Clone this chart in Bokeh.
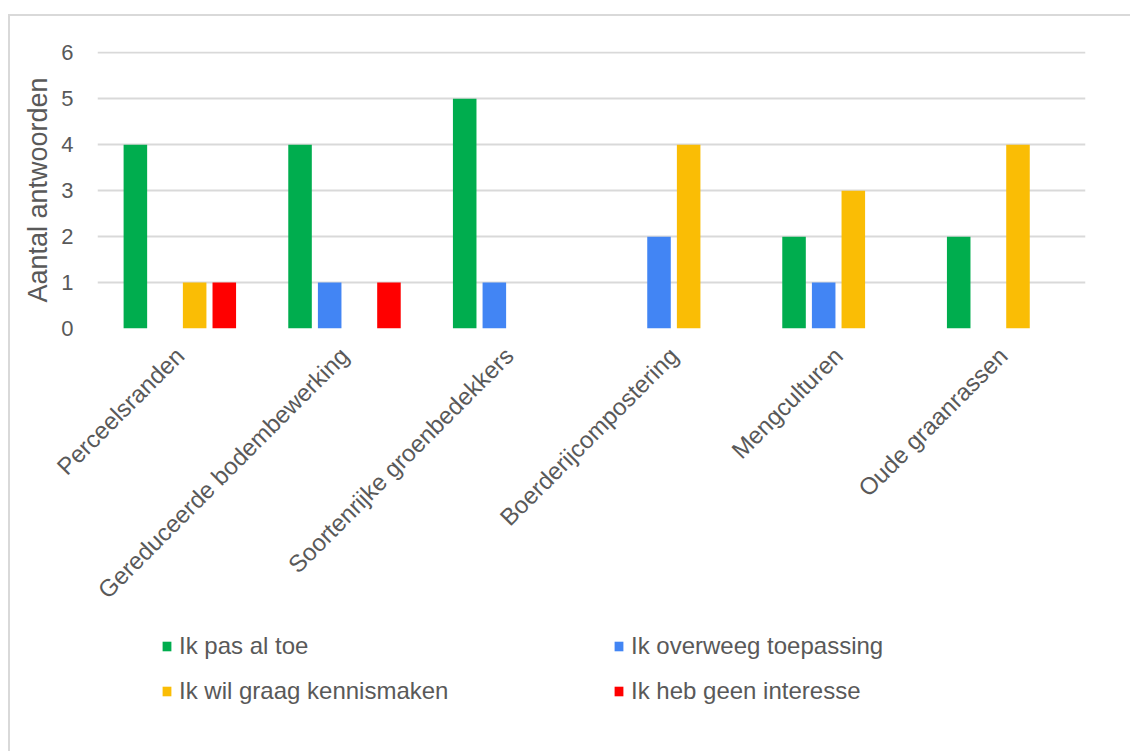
import math
from bokeh.plotting import figure
from bokeh.layouts import column
from bokeh.models import (ColumnDataSource, FactorRange, Range1d, Legend, LegendItem,
                          FixedTicker)
from bokeh.transform import dodge
from bokeh.embed import file_html
from bokeh.resources import INLINE

categories = ["Perceelsranden", "Gereduceerde bodembewerking", "Soortenrijke groenbedekkers",
              "Boerderijcompostering", "Mengculturen", "Oude graanrassen"]
pas_al_toe = [4, 4, 5, 0, 2, 2]
overweeg = [0, 1, 1, 2, 1, 0]
kennismaken = [1, 0, 0, 4, 3, 4]
geen_interesse = [1, 1, 0, 0, 0, 0]
series_names = ["Ik pas al toe", "Ik overweeg toepassing",
                "Ik wil graag kennismaken", "Ik heb geen interesse"]
y_ticks = [0, 1, 2, 3, 4, 5, 6]

colors = ["#00AD4E", "#4285F4", "#FABD05", "#FF0000"]
FONT = "Liberation Sans"
TXT = "#595959"

src = ColumnDataSource(dict(cat=categories, s0=pas_al_toe, s1=overweeg,
                            s2=kennismaken, s3=geen_interesse))

p = figure(width=1120, height=600, x_range=FactorRange(*categories, range_padding=0),
           y_range=Range1d(0, 6.03), output_backend="svg", toolbar_location=None,
           min_border_left=87, min_border_right=45, min_border_top=35, min_border_bottom=288)
p.outline_line_color = None

offsets = [-0.27, -0.09, 0.09, 0.27]
renderers = []
for i, key in enumerate(["s0", "s1", "s2", "s3"]):
    r = p.vbar(x=dodge("cat", offsets[i], range=p.x_range), top=key, bottom=0,
               width=0.143, source=src, fill_color=colors[i], line_color=None)
    renderers.append(r)

# grid
p.xgrid.grid_line_color = None
p.ygrid.grid_line_color = "#D9D9D9"
p.ygrid.grid_line_width = 2
p.ygrid.level = "underlay"

# axes
p.yaxis.ticker = FixedTicker(ticks=y_ticks)
p.yaxis.axis_line_color = None
p.yaxis.major_tick_line_color = None
p.yaxis.minor_tick_line_color = None
p.yaxis.major_label_text_font = FONT
p.yaxis.major_label_text_font_size = "22px"
p.yaxis.major_label_text_color = TXT
p.yaxis.major_label_standoff = 18
p.yaxis.axis_label = "Aantal antwoorden"
p.yaxis.axis_label_text_font = FONT
p.yaxis.axis_label_text_font_size = "27px"
p.yaxis.axis_label_text_font_style = "normal"
p.yaxis.axis_label_text_color = TXT
p.yaxis.axis_label_standoff = 5

p.xaxis.axis_line_color = None
p.xaxis.major_tick_line_color = None
p.xaxis.minor_tick_line_color = None
p.xaxis.major_label_orientation = math.pi / 4
p.xaxis.major_label_text_font = FONT
p.xaxis.major_label_text_font_size = "24px"
p.xaxis.major_label_text_color = TXT
p.xaxis.major_label_standoff = 17

# legend panel (separate figure below the chart, frames aligned by the column)
lf = figure(width=1120, height=135, output_backend="svg", toolbar_location=None,
            min_border=0, x_range=Range1d(0, 1), y_range=Range1d(0, 1))
lf.axis.visible = False
lf.grid.visible = False
lf.outline_line_color = None
# legend swatches: out-of-view glyphs carrying the series colours
dummies = [lf.vbar(x=[0.5], top=[-2], bottom=[-3], width=0.1,
                   fill_color=colors[i], line_color=None) for i in range(4)]
items = [LegendItem(label=series_names[i], renderers=[dummies[i]]) for i in range(4)]
legend = Legend(items=items, ncols=2, location=(64, 38), orientation="horizontal",
                glyph_width=11, glyph_height=12, label_standoff=7, spacing=0,
                label_width=434, label_height=45, padding=0, margin=0,
                label_text_font=FONT, label_text_font_size="24px", label_text_color=TXT,
                border_line_color=None, background_fill_alpha=0)
lf.add_layout(legend, "center")

layout = column(p, lf, spacing=0, margin=(14, 0, 0, 8),
                styles={"border-left": "2px solid #D9D9D9", "border-top": "2px solid #D9D9D9"})

open("out.html", "w").write(file_html(layout, INLINE))
